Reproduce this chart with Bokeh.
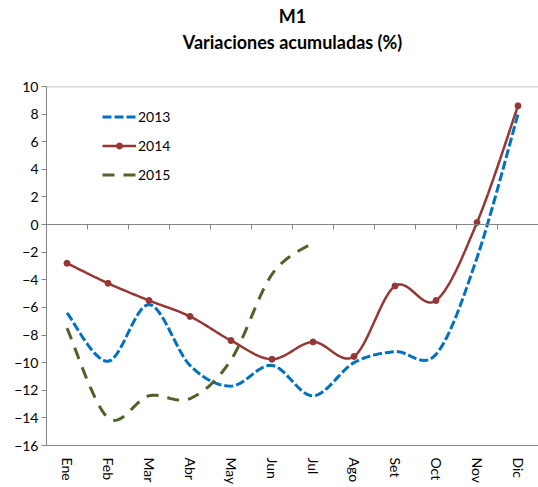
import numpy as np
from bokeh.plotting import figure
from bokeh.models import (LinearAxis, FixedTicker, Range1d, Title, Legend, LegendItem, Span)
from bokeh.embed import file_html
from bokeh.resources import INLINE

months = ["Ene", "Feb", "Mar", "Abr", "May", "Jun", "Jul", "Ago", "Set", "Oct", "Nov", "Dic"]
v2013 = [-6.4, -9.9, -5.8, -10.2, -11.7, -10.2, -12.4, -10.0, -9.2, -9.4, -2.4, 8.0]
v2014 = [-2.8, -4.25, -5.5, -6.65, -8.4, -9.75, -8.5, -9.55, -4.45, -5.5, 0.15, 8.6]
v2015 = [-7.5, -14.0, -12.4, -12.6, -9.8, -3.6, -1.3]
y_ticks = list(range(-16, 11, 2))

FONT = "Lato"
C13, C14, C15 = "#0070C0", "#953735", "#4F6228"


def smooth(ys, n=24):
    # Excel-like smoothed line (Catmull-Rom as cubic Bezier) through the data points
    xs = np.arange(len(ys)) + 0.5
    pts = np.column_stack([xs, np.asarray(ys, float)])
    out = [pts[0]]
    for i in range(len(pts) - 1):
        p0 = pts[i - 1] if i > 0 else pts[i]
        p1, p2 = pts[i], pts[i + 1]
        p3 = pts[i + 2] if i + 2 < len(pts) else pts[i + 1]
        c1 = p1 + (p2 - p0) / 6.0
        c2 = p2 - (p3 - p1) / 6.0
        t = np.linspace(0, 1, n + 1)[1:, None]
        seg = ((1 - t) ** 3) * p1 + 3 * ((1 - t) ** 2) * t * c1 + 3 * (1 - t) * t ** 2 * c2 + t ** 3 * p2
        out.extend(seg)
    out = np.array(out)
    return out[:, 0], out[:, 1]


p = figure(width=538, height=487, output_backend="svg", toolbar_location=None,
           x_range=Range1d(0, len(months)), y_range=Range1d(-16, 10),
           x_axis_type=None, y_axis_type=None,
           min_border_left=46, min_border_right=0, min_border_top=86, min_border_bottom=41)
p.outline_line_color = None
p.background_fill_color = "white"
p.border_fill_color = "white"

# y axis
yax = LinearAxis(ticker=FixedTicker(ticks=y_ticks))
yax.axis_line_color = "#868686"
yax.major_tick_line_color = "#868686"
yax.major_tick_out = 5
yax.major_tick_in = 0
yax.minor_tick_line_color = None
yax.major_label_standoff = 3
yax.major_label_text_font = FONT
yax.major_label_text_font_size = "14px"
yax.major_label_text_color = "#000000"
p.add_layout(yax, "left")

# bottom axis with month labels
xax = LinearAxis(ticker=FixedTicker(ticks=[i + 0.5 for i in range(len(months))]))
xax.major_label_overrides = {i + 0.5: m for i, m in enumerate(months)}
xax.major_label_orientation = "vertical"
xax.axis_line_color = "#868686"
xax.major_tick_line_color = None
xax.minor_tick_line_color = None
xax.major_label_standoff = 6
xax.major_label_text_font = FONT
xax.major_label_text_font_size = "14px"
xax.major_label_text_color = "#000000"
p.add_layout(xax, "below")

# zero line axis with ticks between categories (ticks pointing down)
zax = LinearAxis(ticker=FixedTicker(ticks=list(range(1, len(months) + 1))), fixed_location=0)
zax.axis_line_color = "#868686"
zax.major_tick_line_color = "#868686"
zax.major_tick_out = 0
zax.major_tick_in = 5
zax.minor_tick_line_color = None
zax.major_label_standoff = 0
zax.major_label_text_font_size = "0px"
zax.major_label_text_color = None
p.add_layout(zax, "above")

# grid
p.ygrid.ticker = FixedTicker(ticks=y_ticks)
p.ygrid.grid_line_color = "#a6a6a6"
p.ygrid.grid_line_dash = "2 2"
p.xgrid.visible = False
p.add_layout(Span(location=10, dimension="width", line_color="#b0b0b0", line_width=1.5))

# series
x13, y13 = smooth(v2013)
x14, y14 = smooth(v2014)
x15, y15 = smooth(v2015)
r13 = p.line(x13, y13, line_color=C13, line_width=3, line_dash="9 3")
r14 = p.line(x14, y14, line_color=C14, line_width=2.5)
m14 = p.scatter([i + 0.5 for i in range(len(v2014))], v2014, size=6, color=C14)
r15 = p.line(x15, y15, line_color=C15, line_width=3, line_dash="12 9")

legend = Legend(items=[LegendItem(label="2013", renderers=[r13]),
                       LegendItem(label="2014", renderers=[r14, m14]),
                       LegendItem(label="2015", renderers=[r15])],
                location=(56, 261))
legend.border_line_color = None
legend.background_fill_alpha = 0
legend.padding = 0
legend.margin = 0
legend.spacing = 9
legend.glyph_width = 34
legend.glyph_height = 15
legend.label_height = 20
legend.label_standoff = 2
legend.label_text_font = FONT
legend.label_text_font_size = "14px"
legend.label_text_color = "#000000"
p.add_layout(legend, "center")

# titles (a blank spacer title keeps the gap between the titles and the plot)
spacer = Title(text=" ", text_font=FONT, text_font_size="18px", standoff=10)
t2 = Title(text="Variaciones acumuladas (%)", align="center", text_font=FONT,
           text_font_size="18px", text_font_style="bold", standoff=0, text_color="#000000")
t1 = Title(text="M1", align="center", text_font=FONT,
           text_font_size="18px", text_font_style="bold", standoff=4, text_color="#000000")
p.add_layout(spacer, "above")
p.add_layout(t2, "above")
p.add_layout(t1, "above")

open("out.html", "w").write(file_html(p, INLINE))
